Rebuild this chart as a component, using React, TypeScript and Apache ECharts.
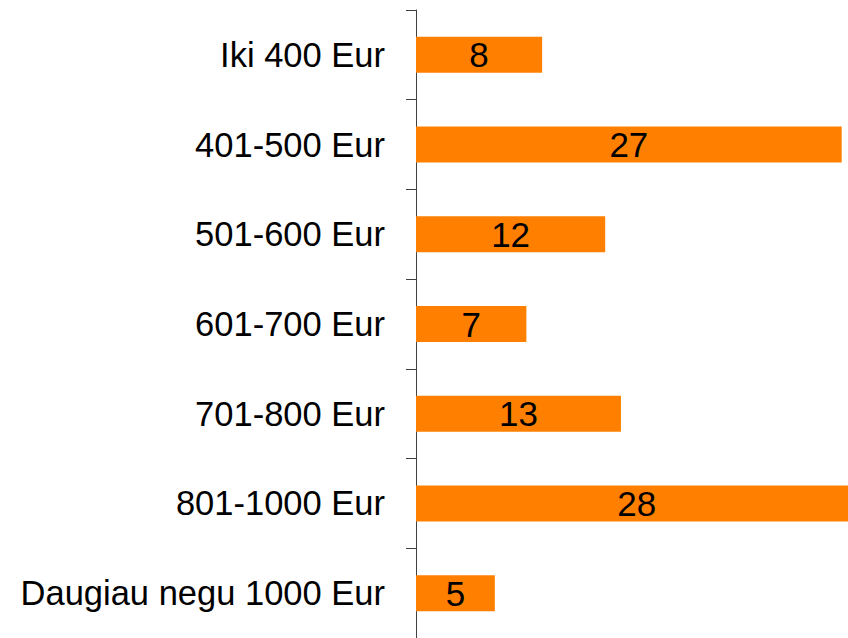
import React, { useEffect, useRef } from "react";
import * as echarts from "echarts";

const categories = [
  "Iki 400 Eur",
  "401-500 Eur",
  "501-600 Eur",
  "601-700 Eur",
  "701-800 Eur",
  "801-1000 Eur",
  "Daugiau negu 1000 Eur",
];
const values = [8, 27, 12, 7, 13, 28, 5];

export default function App() {
  const ref = useRef<HTMLDivElement>(null);
  useEffect(() => {
    if (!ref.current) return;
    const chart = echarts.init(ref.current, null, { renderer: "svg" });
    chart.setOption({
      animation: false,
      grid: { left: 416, right: 0, top: 10, bottom: -2, containLabel: false },
      xAxis: {
        type: "value",
        min: 0,
        max: 27.4,
        show: false,
      },
      yAxis: {
        type: "category",
        data: categories,
        inverse: true,
        axisLine: { show: true, lineStyle: { color: "#404040", width: 1 } },
        axisTick: { show: true, length: 10, lineStyle: { color: "#404040", width: 1 } },
        axisLabel: {
          color: "#000000",
          fontFamily: "Liberation Sans, Arial, sans-serif",
          fontSize: 34.5,
          margin: 31,
        },
        splitLine: { show: false },
      },
      series: [
        {
          type: "bar",
          data: values,
          barWidth: 36,
          clip: false,
          itemStyle: { color: "#FF8000" },
          label: {
            show: true,
            position: "inside",
            color: "#000000",
            fontFamily: "Liberation Sans, Arial, sans-serif",
            fontSize: 35,
          },
        },
      ],
    });
    return () => chart.dispose();
  }, []);
  return (
    <div
      ref={ref}
      style={{ position: "fixed", left: 0, top: 0, width: 848, height: 638, background: "#fff", overflow: "hidden" }}
    />
  );
}
